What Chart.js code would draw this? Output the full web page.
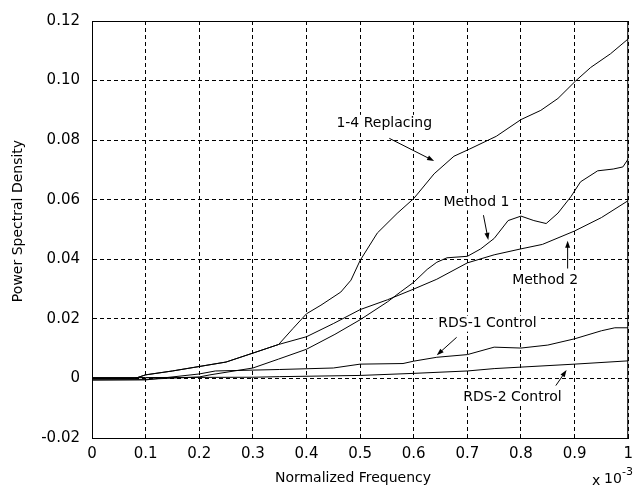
<!DOCTYPE html>
<html>
<head>
<meta charset="utf-8">
<title>Power Spectral Density</title>
<script src="https://cdn.jsdelivr.net/npm/chart.js@4.4.1/dist/chart.umd.min.js"></script>
<style>
  html, body { margin: 0; padding: 0; background: #fff; }
  #psd-chart { display: block; }
</style>
</head>
<body>
<canvas id="psd-chart" width="640" height="494"></canvas>
<script>
// normalized frequency (x 10^-3) and PSD for each method
const replacingFreq = [0, 0.08, 0.1, 0.15, 0.2, 0.25, 0.3, 0.348, 0.375, 0.4, 0.427, 0.464, 0.483, 0.5, 0.532, 0.569, 0.6, 0.638, 0.675, 0.704, 0.754, 0.8, 0.837, 0.869, 0.902, 0.93, 0.967, 1.0];
const replacingPsd = [0, 0, 0.0012, 0.0025, 0.004, 0.0055, 0.0085, 0.0114, 0.0168, 0.0217, 0.0246, 0.029, 0.033, 0.0396, 0.0488, 0.0554, 0.0604, 0.0687, 0.0746, 0.077, 0.0813, 0.0869, 0.09, 0.094, 0.0999, 0.1044, 0.109, 0.114];

const method1Freq = [0, 0.1, 0.2, 0.22, 0.3, 0.348, 0.4, 0.453, 0.5, 0.551, 0.575, 0.6, 0.625, 0.643, 0.662, 0.7, 0.725, 0.75, 0.776, 0.8, 0.824, 0.847, 0.869, 0.893, 0.911, 0.943, 0.972, 0.99, 1.0];
const method1Psd = [-0.0003, -0.0003, 0.0005, 0.0012, 0.0035, 0.0065, 0.0098, 0.0148, 0.0197, 0.0257, 0.029, 0.0323, 0.0366, 0.039, 0.0405, 0.041, 0.0435, 0.047, 0.053, 0.0545, 0.053, 0.052, 0.0555, 0.061, 0.066, 0.0697, 0.0703, 0.071, 0.0737];

const method2Freq = [0, 0.08, 0.1, 0.15, 0.2, 0.25, 0.3, 0.348, 0.4, 0.45, 0.5, 0.551, 0.6, 0.643, 0.7, 0.75, 0.8, 0.84, 0.9, 0.95, 1.0];
const method2Psd = [0, 0, 0.0012, 0.0025, 0.004, 0.0055, 0.0085, 0.0114, 0.014, 0.0184, 0.0231, 0.0264, 0.03, 0.0333, 0.0388, 0.0415, 0.0435, 0.045, 0.0495, 0.054, 0.0597];

const rds1Freq = [0, 0.1, 0.2, 0.23, 0.35, 0.45, 0.5, 0.58, 0.6, 0.643, 0.7, 0.75, 0.8, 0.85, 0.9, 0.95, 0.975, 1.0];
const rds1Psd = [-0.0006, -0.0005, 0.0015, 0.0025, 0.003, 0.0035, 0.0048, 0.005, 0.0058, 0.0071, 0.008, 0.0105, 0.0102, 0.0112, 0.0133, 0.016, 0.017, 0.017];

const rds2Freq = [0, 0.1, 0.3, 0.35, 0.5, 0.6, 0.7, 0.75, 0.9, 1.0];
const rds2Psd = [0.0003, 0.0003, 0.0004, 0.0006, 0.001, 0.0017, 0.0025, 0.0033, 0.0048, 0.0059];

const xTickLabels = ['0', '0.1', '0.2', '0.3', '0.4', '0.5', '0.6', '0.7', '0.8', '0.9', '1'];
const yTickLabels = ['-0.02', '0', '0.02', '0.04', '0.06', '0.08', '0.10', '0.12'];

// callout text, arrow tail and arrow head, in data units
const callouts = [
    { text: '1-4 Replacing', at: [0.545, 0.0858], from: [0.5545, 0.0806], to: [0.638, 0.073] },
    { text: 'Method 1', at: [0.717, 0.0591], from: [0.730, 0.0548], to: [0.739, 0.0465] },
    { text: 'Method 2', at: [0.845, 0.033], from: [0.887, 0.0369], to: [0.887, 0.0462] },
    { text: 'RDS-1 Control', at: [0.7375, 0.0184], from: [0.680, 0.0138], to: [0.643, 0.0078] },
    { text: 'RDS-2 Control', at: [0.784, -0.0062], from: [0.865, -0.0024], to: [0.885, 0.0028] }
];

const FONT = 'DejaVu Sans';
Chart.defaults.font.family = FONT;
Chart.defaults.color = '#000';

function toPoints(xs, ys) {
    return xs.map((x, i) => ({ x, y: ys[i] }));
}

function series(label, xs, ys) {
    return {
        label,
        data: toPoints(xs, ys),
        borderColor: '#000',
        borderWidth: 1,
        pointRadius: 0,
        tension: 0,
        fill: false
    };
}

// solid frame, label backgrounds, axis titles, exponent and arrowed callouts
const decorations = {
    id: 'decorations',
    beforeDatasetsDraw(chart) {
        const { ctx, chartArea: a, scales: { x, y } } = chart;
        ctx.save();
        ctx.font = `14px ${FONT}`;
        ctx.fillStyle = '#fff';
        callouts.forEach(c => {
            const w = ctx.measureText(c.text).width;
            const cx = x.getPixelForValue(c.at[0]);
            const cy = y.getPixelForValue(c.at[1]);
            ctx.fillRect(cx - w / 2 - 2, cy - 8, w + 4, 16);
        });
        ctx.strokeStyle = '#000';
        ctx.lineWidth = 1;
        ctx.strokeRect(a.left + 0.5, a.top + 0.5, a.right - a.left - 1, a.bottom - a.top);
        ctx.restore();
    },
    afterDraw(chart) {
        const { ctx, scales: { x, y } } = chart;
        ctx.save();
        ctx.fillStyle = '#000';
        ctx.strokeStyle = '#000';
        ctx.textAlign = 'center';
        ctx.textBaseline = 'middle';

        ctx.font = `14px ${FONT}`;
        ctx.fillText('Normalized Frequency', 353, 478);

        ctx.save();
        ctx.translate(18, 221);
        ctx.rotate(-Math.PI / 2);
        ctx.fillText('Power Spectral Density', 0, 0);
        ctx.restore();

        ctx.textAlign = 'left';
        ctx.font = `14px ${FONT}`;
        ctx.fillText('x', 592, 481);
        ctx.fillText('10', 604, 479);
        ctx.font = `11px ${FONT}`;
        ctx.fillText('-3', 622, 472);

        ctx.textAlign = 'center';
        ctx.font = `14px ${FONT}`;
        callouts.forEach(c => {
            ctx.fillText(c.text, x.getPixelForValue(c.at[0]), y.getPixelForValue(c.at[1]));
            const x1 = x.getPixelForValue(c.from[0]);
            const y1 = y.getPixelForValue(c.from[1]);
            const x2 = x.getPixelForValue(c.to[0]);
            const y2 = y.getPixelForValue(c.to[1]);
            const ang = Math.atan2(y2 - y1, x2 - x1);
            ctx.lineWidth = 1;
            ctx.beginPath();
            ctx.moveTo(x1, y1);
            ctx.lineTo(x2 - 4 * Math.cos(ang), y2 - 4 * Math.sin(ang));
            ctx.stroke();
            ctx.beginPath();
            ctx.moveTo(x2, y2);
            ctx.lineTo(x2 - 7 * Math.cos(ang) + 2.5 * Math.sin(ang), y2 - 7 * Math.sin(ang) - 2.5 * Math.cos(ang));
            ctx.lineTo(x2 - 7 * Math.cos(ang) - 2.5 * Math.sin(ang), y2 - 7 * Math.sin(ang) + 2.5 * Math.cos(ang));
            ctx.closePath();
            ctx.fill();
        });
        ctx.restore();
    }
};

new Chart(document.getElementById('psd-chart').getContext('2d'), {
    type: 'line',
    data: {
        datasets: [
            series('1-4 Replacing', replacingFreq, replacingPsd),
            series('Method 1', method1Freq, method1Psd),
            series('Method 2', method2Freq, method2Psd),
            series('RDS-1 Control', rds1Freq, rds1Psd),
            series('RDS-2 Control', rds2Freq, rds2Psd)
        ]
    },
    options: {
        responsive: false,
        animation: false,
        layout: { padding: { top: 15, right: 7, left: 0, bottom: 0 } },
        plugins: {
            legend: { display: false },
            tooltip: { enabled: false }
        },
        scales: {
            x: {
                type: 'linear',
                min: 0,
                max: 1,
                afterFit: scale => { scale.height = 56; },
                ticks: {
                    stepSize: 0.1,
                    padding: 7,
                    maxRotation: 0,
                    font: { size: 15 },
                    callback: (v, i) => xTickLabels[i]
                },
                grid: { color: '#000', lineWidth: 1, drawTicks: false },
                border: { display: true, color: '#000', width: 1, dash: [4, 3] }
            },
            y: {
                min: -0.02,
                max: 0.12,
                afterFit: scale => { scale.width = 92; },
                ticks: {
                    stepSize: 0.02,
                    padding: 12,
                    font: { size: 15 },
                    callback: (v, i) => yTickLabels[i]
                },
                grid: { color: '#000', lineWidth: 1, drawTicks: false },
                border: { display: true, color: '#000', width: 1, dash: [4, 3] }
            }
        }
    },
    plugins: [decorations]
});
</script>
</body>
</html>
